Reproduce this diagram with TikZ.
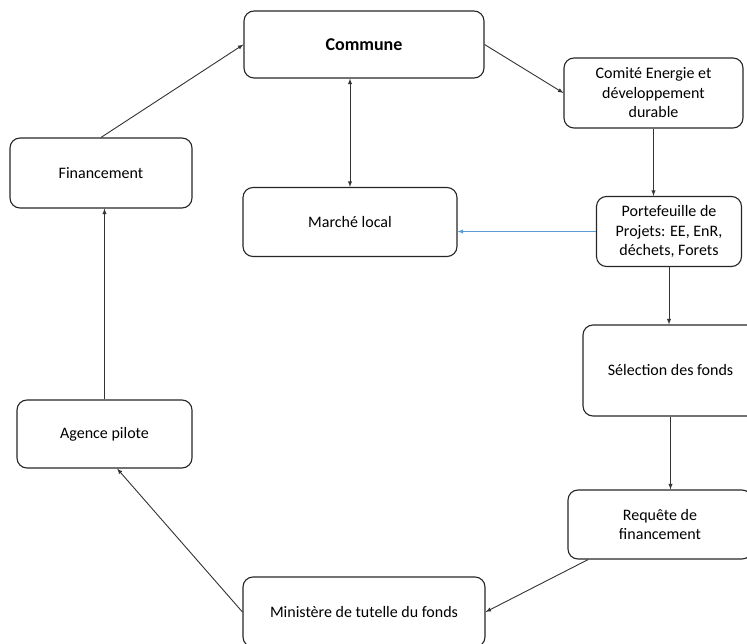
\documentclass[tikz,border=0pt]{standalone}
\usepackage{fontspec}
\setmainfont{Carlito}
\usepackage{tikz}
\tikzstyle{etape} = [draw=black!85, line width=1.1pt, rounded corners=10pt, align=center, font={\fontsize{16}{19.5}\selectfont}]
\tikzstyle{fleche} = [->, >=latex, black!80, line width=0.9pt]
\tikzstyle{bleue} = [->, >=latex, color={rgb,255:red,91;green,155;blue,213}, line width=0.9pt]

\begin{document}
\begin{tikzpicture}[x=1pt,y=-1pt]
    \useasboundingbox (0,0) rectangle (747,644);
    \node[etape,minimum width=240pt,minimum height=67pt,font={\fontsize{18}{22}\selectfont\bfseries}](commune) at (364,44.5){Commune};
    \node[etape,minimum width=179pt,minimum height=70pt](comite) at (653.5,93){Comité Energie et\\développement\\durable};
    \node[etape,minimum width=145pt,minimum height=70pt](portef) at (669,231.5){Portefeuille de\\Projets: EE, EnR,\\déchets, Forets};
    \node[etape,minimum width=214pt,minimum height=69pt](marche) at (350,222){Marché local};
    \node[etape,minimum width=175pt,minimum height=91pt](selection) at (670.5,370.5){Sélection des fonds};
    \node[etape,minimum width=184pt,minimum height=69pt](requete) at (660,524.5){Requête de\\financement};
    \node[etape,minimum width=242pt,minimum height=70pt](ministere) at (364,612){Ministère de tutelle du fonds};
    \node[etape,minimum width=182pt,minimum height=70pt](financement) at (101,173){Financement};
    \node[etape,minimum width=175pt,minimum height=68pt](agence) at (104.5,434){Agence pilote};
    \draw[fleche](financement.north)--(commune.west);
    \draw[fleche](commune.east)--(comite.west);
    \draw[fleche](comite.south)--(comite.south |- portef.north);
    \draw[fleche,<->](commune.south -| marche.north)--(marche.north);
    \draw[bleue](portef.west)--(portef.west -| marche.east);
    \draw[fleche](portef.south)--(portef.south |- selection.north);
    \draw[fleche](selection.south)--(selection.south |- requete.north);
    \draw[fleche](requete.-154)--(ministere.east);
    \draw[fleche](ministere.west)--(agence.-70);
    \draw[fleche](agence.north)--(agence.north |- financement.south);
  \end{tikzpicture}
\end{document}
